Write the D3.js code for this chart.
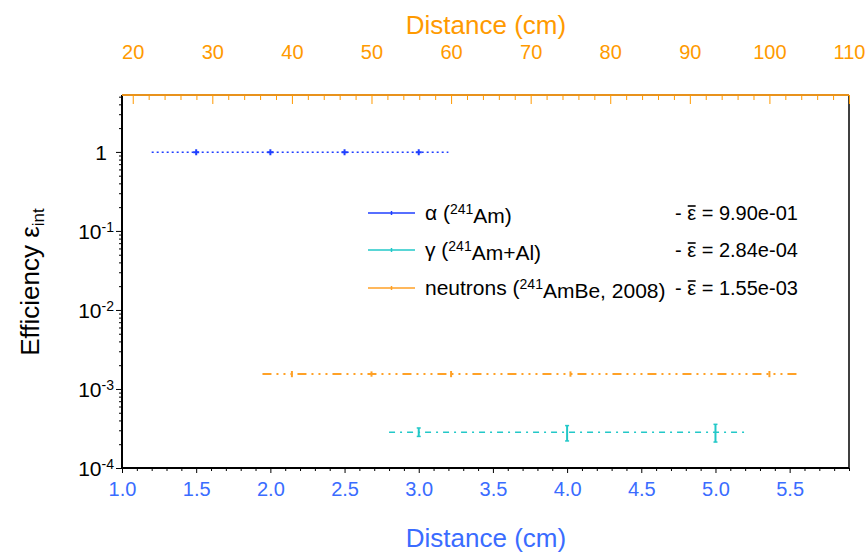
<!DOCTYPE html>
<html>
<head>
<meta charset="utf-8">
<script src="https://cdn.jsdelivr.net/npm/d3@7"></script>
<style>
  html, body { margin: 0; padding: 0; background: #fff; }
  svg { display: block; font-family: "Liberation Sans", Arial, Helvetica, sans-serif; }
</style>
</head>
<body>
<svg id="chart" width="867" height="552"></svg>
<script>
// ---------------- data ----------------
const bottomTicks = [1.0, 1.5, 2.0, 2.5, 3.0, 3.5, 4.0, 4.5, 5.0, 5.5];
const topTicks = [20, 30, 40, 50, 60, 70, 80, 90, 100, 110];
const yTickExps = [-4, -3, -2, -1, 0];

// alpha (241Am) — distance in cm (bottom axis)
const alphaX = [1.5, 2.0, 2.5, 3.0];
const alphaY = [0.99, 0.99, 0.99, 0.99];
const alphaErr = [0.01, 0.01, 0.01, 0.01];
const alphaFitRange = [1.2, 3.2];
const alphaMean = 0.990;

// gamma (241Am+Al) — distance in cm (bottom axis)
const gammaX = [3.0, 4.0, 5.0];
const gammaY = [2.86e-4, 2.82e-4, 2.85e-4];
const gammaErr = [0.35e-4, 0.62e-4, 0.72e-4];
const gammaFitRange = [2.8, 5.2];
const gammaMean = 2.84e-4;

// neutrons (241AmBe, 2008) — distance in cm (top axis)
const neutronX = [40, 50, 60, 75, 100];
const neutronY = [1.55e-3, 1.55e-3, 1.55e-3, 1.55e-3, 1.55e-3];
const neutronErr = [0.14e-3, 0.12e-3, 0.14e-3, 0.12e-3, 0.14e-3];
const neutronFitRange = [36.3, 103.4];
const neutronMean = 1.55e-3;

const legendLabels = [
  {name: "α (", sup: "241", rest: "Am)", mean: "9.90e-01"},
  {name: "γ (", sup: "241", rest: "Am+Al)", mean: "2.84e-04"},
  {name: "neutrons (", sup: "241", rest: "AmBe, 2008)", mean: "1.55e-03"}
];

// ---------------- layout ----------------
const L = 122, R = 849, T = 95, B = 468;
const cBlue = "#1f3fff", cCyan = "#22c8c8", cOrange = "#ffa126";
const cAxisBlue = "#3a6cff", cAxisOrange = "#ff9a00", cTopLine = "#e8921c";

const svg = d3.select("#chart");

const x = d3.scaleLinear().domain([1, 5.9]).range([L, R]);
const xTop = d3.scaleLinear().domain([18.65, 110]).range([L, R]);
const y = d3.scaleLog().domain([1e-4, 5.25]).range([B, T]);

// ---------- frame ----------
svg.append("line").attr("x1", R).attr("x2", R).attr("y1", T).attr("y2", B)
  .attr("stroke", "#000").attr("stroke-width", 1.5);

// ---------- bottom axis ----------
const minorBottom = d3.range(10, 60).map(d => d / 10).filter(d => !bottomTicks.some(t => Math.abs(t - d) < 1e-9));
const gBm = svg.append("g").attr("transform", `translate(0,${B})`)
  .call(d3.axisBottom(x).tickValues(minorBottom).tickSize(3).tickFormat(""));
gBm.select(".domain").remove();
const gB = svg.append("g").attr("transform", `translate(0,${B})`)
  .call(d3.axisBottom(x).tickValues(bottomTicks).tickSize(5).tickPadding(9).tickFormat(d3.format(".1f")));
gB.select(".domain").attr("stroke-width", 2).attr("d", `M${L},0H${R}`);
gB.selectAll("text").attr("fill", cAxisBlue).style("font-size", "20px");
svg.selectAll("g line").attr("stroke", "#000");

// ---------- left axis ----------
const minorY = [];
for (let e = -4; e <= 0; e++) for (let m = 2; m <= 9; m++) {
  const v = m * Math.pow(10, e);
  if (v <= 5.25) minorY.push(v);
}
const gLm = svg.append("g").attr("transform", `translate(${L},0)`)
  .call(d3.axisLeft(y).tickValues(minorY).tickSize(3).tickFormat(""));
gLm.select(".domain").remove();
const gL = svg.append("g").attr("transform", `translate(${L},0)`)
  .call(d3.axisLeft(y).tickValues(yTickExps.map(e => Math.pow(10, e))).tickSize(6).tickFormat(""));
gL.select(".domain").attr("stroke-width", 2).attr("d", `M0,${T}V${B}`);
gL.selectAll(".tick").each(function(d) {
  const e = Math.round(Math.log10(d));
  const t = d3.select(this).append("text").attr("fill", "#000")
    .attr("text-anchor", "end").attr("y", 0).attr("dy", "0.35em")
    .style("font-size", "21px");
  if (e === 0) {
    t.attr("x", -15).text("1");
  } else {
    t.attr("x", -8);
    t.append("tspan").text("10");
    t.append("tspan").attr("dy", "-0.5em").style("font-size", "14px").text(String(e));
  }
});
svg.selectAll("g line").attr("stroke", "#000");

// ---------- top axis ----------
const minorTop = d3.range(20, 111, 2).filter(d => d % 10 !== 0);
const gTm = svg.append("g").attr("transform", `translate(0,${T})`)
  .call(d3.axisTop(xTop).tickValues(minorTop).tickSize(-5).tickFormat(""));
gTm.select(".domain").remove();
gTm.selectAll("line").attr("stroke", cAxisOrange);
const gT = svg.append("g").attr("transform", `translate(0,${T})`)
  .call(d3.axisTop(xTop).tickValues(topTicks).tickSize(-9).tickPadding(36).tickFormat(d3.format("d")));
gT.select(".domain").attr("stroke", cTopLine).attr("stroke-width", 2.2).attr("d", `M${L},0H${R}`);
gT.selectAll("line").attr("stroke", cAxisOrange);
gT.selectAll("text").attr("fill", cAxisOrange).style("font-size", "20px");

// ---------- titles ----------
svg.append("text").attr("x", 486).attr("y", 547).attr("text-anchor", "middle")
  .attr("fill", cAxisBlue).style("font-size", "26px").text("Distance (cm)");
svg.append("text").attr("x", 486).attr("y", 34).attr("text-anchor", "middle")
  .attr("fill", cAxisOrange).style("font-size", "26px").text("Distance (cm)");
const yl = svg.append("text").attr("transform", "translate(39,282) rotate(-90)")
  .attr("text-anchor", "middle").attr("fill", "#000").style("font-size", "26px");
yl.append("tspan").text("Efficiency ε");
yl.append("tspan").attr("dy", "0.3em").style("font-size", "17px").text("int");

// ---------- data series ----------
function drawMeanLine(xs, range, mean, color, dash, width) {
  svg.append("line")
    .attr("x1", xs(range[0])).attr("x2", xs(range[1]))
    .attr("y1", y(mean)).attr("y2", y(mean))
    .attr("stroke", color).attr("stroke-width", width)
    .attr("stroke-dasharray", dash);
}
function drawPoints(xs, X, Y, E, color, cap, cross) {
  const g = svg.append("g");
  X.forEach((xv, i) => {
    const px = xs(xv), py = y(Y[i]);
    const y1 = y(Y[i] + E[i]), y2 = y(Y[i] - E[i]);
    g.append("line").attr("x1", px).attr("x2", px).attr("y1", y1).attr("y2", y2)
      .attr("stroke", color).attr("stroke-width", 2);
    if (cap) {
      g.append("line").attr("x1", px - 2).attr("x2", px + 2).attr("y1", y1).attr("y2", y1)
        .attr("stroke", color).attr("stroke-width", 1.5);
      g.append("line").attr("x1", px - 2).attr("x2", px + 2).attr("y1", y2).attr("y2", y2)
        .attr("stroke", color).attr("stroke-width", 1.5);
    }
    if (cross) {
      g.append("line").attr("x1", px - 3).attr("x2", px + 3).attr("y1", py).attr("y2", py)
        .attr("stroke", color).attr("stroke-width", 2);
      g.append("line").attr("x1", px).attr("x2", px).attr("y1", py - 3).attr("y2", py + 3)
        .attr("stroke", color).attr("stroke-width", 2);
    }
  });
}

drawMeanLine(x, alphaFitRange, alphaMean, cBlue, "2,3", 1.6);
drawPoints(x, alphaX, alphaY, alphaErr, cBlue, false, true);

drawMeanLine(x, gammaFitRange, gammaMean, cCyan, "6,5,2,5", 1.6);
drawPoints(x, gammaX, gammaY, gammaErr, cCyan, true, false);

drawMeanLine(xTop, neutronFitRange, neutronMean, cOrange, "9,5,2,5,2,5,2,5", 2);
drawPoints(xTop, neutronX, neutronY, neutronErr, cOrange, false, false);

// ---------- legend ----------
const legColors = [cBlue, cCyan, cOrange];
const legRows = [213, 250, 288];
legendLabels.forEach((d, i) => {
  const cy = legRows[i];
  svg.append("line").attr("x1", 368).attr("x2", 415).attr("y1", cy).attr("y2", cy)
    .attr("stroke", legColors[i]).attr("stroke-width", 1.5);
  svg.append("line").attr("x1", 391.5).attr("x2", 391.5).attr("y1", cy - 2).attr("y2", cy + 2)
    .attr("stroke", legColors[i]).attr("stroke-width", 1.5);
  const t = svg.append("text").attr("x", 425).attr("y", cy + 7)
    .attr("fill", "#000").style("font-size", "21px");
  t.append("tspan").text(d.name);
  t.append("tspan").attr("dy", "-0.45em").style("font-size", "14px").text(d.sup);
  t.append("tspan").attr("dy", "0.45em").text(d.rest);
  const m = svg.append("text").attr("x", 675).attr("y", cy + 7)
    .attr("fill", "#000").style("font-size", "20px");
  m.text("- ε = " + d.mean);
  const node = m.node();
  const x0 = 675 + node.getSubStringLength(0, 2);
  const w = node.getSubStringLength(2, 1);
  svg.append("line").attr("x1", x0 + 0.5).attr("x2", x0 + w - 0.5)
    .attr("y1", cy - 7).attr("y2", cy - 7)
    .attr("stroke", "#000").attr("stroke-width", 1.6);
});
</script>
</body>
</html>
